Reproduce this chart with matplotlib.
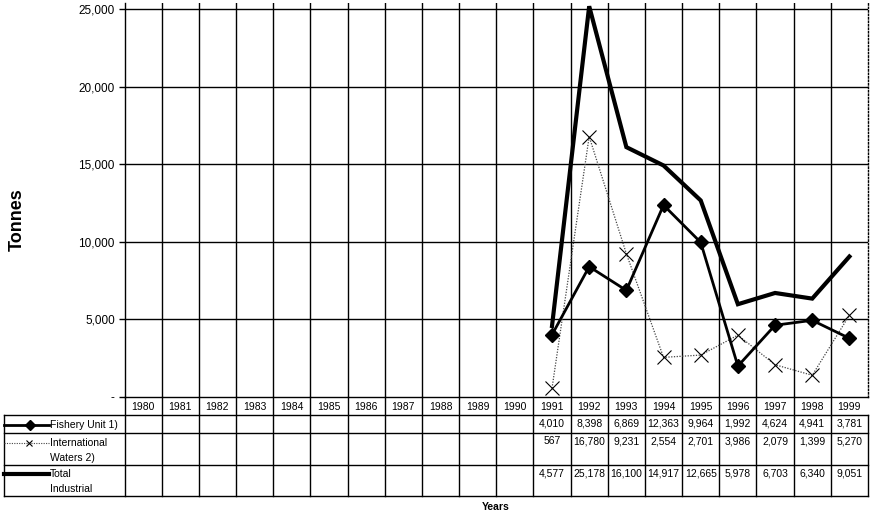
import numpy as np
import matplotlib
matplotlib.use('Agg')
import matplotlib.pyplot as plt

plt.rcParams['font.family'] = ['Liberation Sans', 'DejaVu Sans']

years = list(range(1980, 2000))
data_years = list(range(1991, 2000))

fishery_unit = [4010, 8398, 6869, 12363, 9964, 1992, 4624, 4941, 3781]
intl_waters = [567, 16780, 9231, 2554, 2701, 3986, 2079, 1399, 5270]
total_industrial = [4577, 25178, 16100, 14917, 12665, 5978, 6703, 6340, 9051]

series_labels = [['Fishery Unit 1)'], ['International', 'Waters 2)'], ['Total', 'Industrial']]

W, H = 873, 515
fig = plt.figure(figsize=(W / 100, H / 100), dpi=100)

# pixel layout
x0, x1 = 124.5, 868.0
y_top, y_zero = 3.0, 397.0
rows = [397, 415, 433, 465, 496]
tab_left = 4.0


def fx(px):
    return px / W


def fy(py):
    return 1 - py / H


ax = fig.add_axes([fx(x0), fy(y_zero), fx(x1) - fx(x0), fy(y_top) - fy(y_zero)])
n = len(years)
ax.set_xlim(0, n)
scale = (y_zero - 9.0) / 25000
ax.set_ylim(0, (y_zero - y_top) / scale)

xpos = np.array([years.index(y) for y in data_years]) + 0.5

# grid
for k in range(1, n):
    ax.axvline(k, color='black', lw=1.0, zorder=1)
for v in range(5000, 25001, 5000):
    ax.axhline(v, color='black', lw=1.0, zorder=1)

ax.plot(xpos, total_industrial, color='black', lw=3.0, zorder=3,
        solid_joinstyle='miter')
ax.plot(xpos, intl_waters, color='#444444', lw=0.9, ls=(0, (1, 1.2)),
        marker='x', markersize=10, markeredgewidth=0.8, markeredgecolor='black', zorder=4)
ax.plot(xpos, fishery_unit, color='black', lw=2.0, marker='D', markersize=7.5, zorder=5)

ax.spines['top'].set_visible(False)
ax.spines['right'].set_linestyle((0, (1, 1.5)))
ax.spines['right'].set_linewidth(1.0)
ax.spines['left'].set_linewidth(1.0)
ax.spines['bottom'].set_linewidth(1.0)
ax.set_xticks([])
ax.set_yticks(range(0, 25001, 5000))
ax.set_yticklabels(['-'] + [f'{v:,}' for v in range(5000, 25001, 5000)], fontsize=8.5)
ax.tick_params(axis='y', length=4, width=1.0, pad=3)

fig.text(fx(17), fy(220), 'Tonnes', rotation=90, ha='center', va='center',
         fontsize=13, fontweight='bold')

# data table, drawn in pixel coordinates
tab = fig.add_axes([0, 0, 1, 1])
tab.set_xlim(0, W)
tab.set_ylim(H, 0)
tab.axis('off')
colw = (x1 - x0) / n

# horizontal lines
for r in rows[1:]:
    tab.plot([tab_left, x1], [r, r], color='black', lw=1.0)
# vertical lines
for k in range(n + 1):
    xx = x0 + k * colw
    top = rows[0] if k < n else rows[1]
    tab.plot([xx, xx], [top, rows[-1]], color='black', lw=1.0)
tab.plot([tab_left, tab_left], [rows[1], rows[-1]], color='black', lw=1.0)

# year labels
for k, yr in enumerate(years):
    tab.text(x0 + (k + 0.5) * colw, (rows[0] + rows[1]) / 2 + 0.5, str(yr),
             ha='center', va='center', fontsize=7.5)

# values
value_rows = [fishery_unit, intl_waters, total_industrial]
value_y = [424, 441, 473]
for vals, vy in zip(value_rows, value_y):
    for yr, v in zip(data_years, vals):
        k = years.index(yr)
        tab.text(x0 + (k + 0.5) * colw, vy, f'{v:,}', ha='center', va='center', fontsize=7.5)

# legend keys and series names
tab.plot([tab_left, 49], [424.5, 424.5], color='black', lw=2.0)
tab.plot([30], [424.5], marker='D', color='black', markersize=5)
tab.plot([tab_left, 49], [443, 443], color='#444444', lw=0.8, ls=(0, (1, 1.2)))
tab.plot([29], [443], marker='x', color='black', markersize=5, markeredgewidth=0.8)
tab.plot([tab_left, 49], [474, 474], color='black', lw=3.0)
label_y = [[424.5], [443, 458], [474, 489]]
for lines, ys in zip(series_labels, label_y):
    for t, yy in zip(lines, ys):
        tab.text(50, yy, t, ha='left', va='center', fontsize=7.5)

tab.text(496, 507, 'Years', ha='center', va='center', fontsize=7.5, fontweight='bold')

fig.savefig('out.png', dpi=100)
